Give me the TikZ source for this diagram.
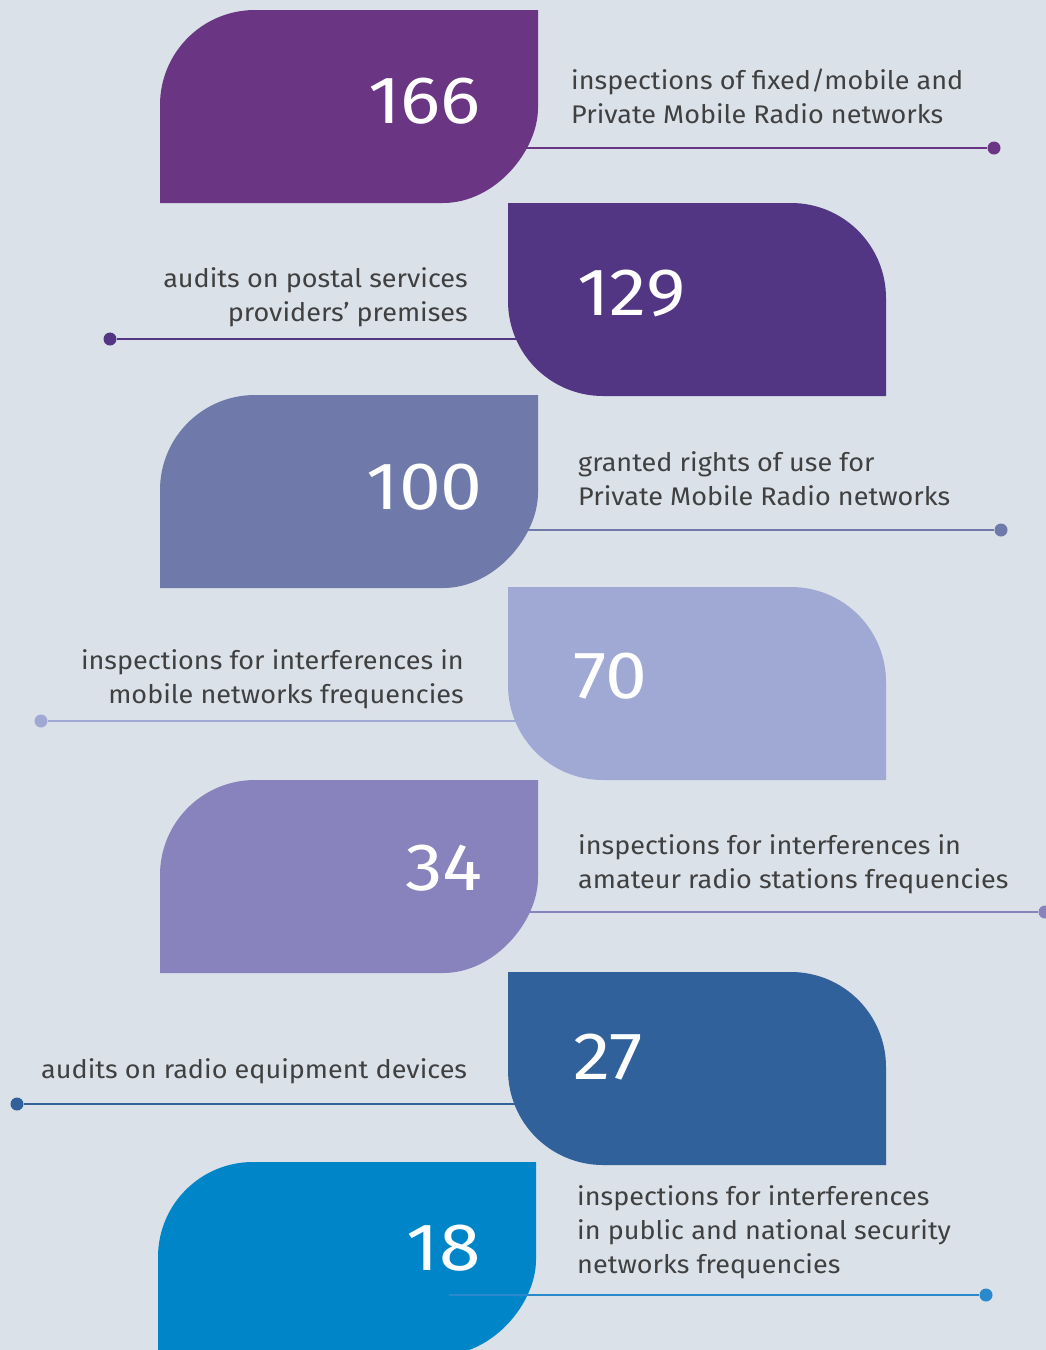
\documentclass[tikz,border=0pt]{standalone}
\usepackage{fontspec}
\setmainfont[FakeStretch=1.06]{Fira Sans}
\newfontfamily\numfont[FakeStretch=1.12]{Fira Sans}
\definecolor{bg}{HTML}{DAE1E8}
\definecolor{cA}{HTML}{6A3583}
\definecolor{cB}{HTML}{523683}
\definecolor{cC}{HTML}{6F7AAA}
\definecolor{cD}{HTML}{A0A8D4}
\definecolor{cE}{HTML}{8882BD}
\definecolor{cF}{HTML}{31619B}
\definecolor{cG}{HTML}{0086C8}
\definecolor{cGline}{HTML}{2A88CC}
\definecolor{txt}{HTML}{404040}
\newcommand\leafleft[3]{%
  \fill[#1] (#2,#3+193) -- (#2,#3+95) .. controls (#2,#3+42.5) and (#2+42.5,#3) .. (#2+95,#3)
    -- (#2+378,#3) -- (#2+378,#3+98) .. controls (#2+378,#3+140.5) and (#2+335.5,#3+193) .. (#2+283,#3+193) -- cycle;}
\newcommand\leafright[3]{%
  \fill[#1] (#2,#3) -- (#2+283,#3) .. controls (#2+335.5,#3) and (#2+378,#3+42.5) .. (#2+378,#3+95)
    -- (#2+378,#3+193) -- (#2+95,#3+193) .. controls (#2+42.5,#3+193) and (#2,#3+150.5) .. (#2,#3+98) -- cycle;}
\begin{document}
\begin{tikzpicture}[x=1pt,y=-1pt,
  num/.style={text=white,inner sep=0pt,font=\numfont\fontsize{67}{67}\selectfont},
  lbl/.style={text=txt,inner sep=0pt,font=\fontsize{25.5}{34}\selectfont},
  dot/.style={circle,fill=#1,inner sep=0pt,minimum size=13pt},
  conn/.style={draw=#1,line width=2.6pt}]
\fill[bg] (0,0) rectangle (1046,1350);
\useasboundingbox (0,0) rectangle (1046,1350);
% connectors behind the shapes
\coordinate (s1) at (500,148);  \node[dot=cA] (d1) at (994,148) {};
\coordinate (s2) at (540,339);  \node[dot=cB] (d2) at (110,339) {};
\coordinate (s3) at (500,530);  \node[dot=cC] (d3) at (1001,530) {};
\coordinate (s4) at (540,721);  \node[dot=cD] (d4) at (41,721) {};
\coordinate (s5) at (500,912);  \node[dot=cE] (d5) at (1045,912) {};
\coordinate (s6) at (540,1104); \node[dot=cF] (d6) at (17,1104) {};
\draw[conn=cA] (s1) -- (d1);
\draw[conn=cB] (s2) -- (d2);
\draw[conn=cC] (s3) -- (d3);
\draw[conn=cD] (s4) -- (d4);
\draw[conn=cE] (s5) -- (d5);
\draw[conn=cF] (s6) -- (d6);
% shapes
\leafleft{cA}{160}{10}
\leafright{cB}{508}{203}
\leafleft{cC}{160}{395}
\leafright{cD}{508}{587}
\leafleft{cE}{160}{780}
\leafright{cF}{508}{972}
\leafleft{cG}{158}{1162}
\coordinate (s7) at (449,1295); \node[dot=cGline] (d7) at (986,1295) {};
\draw[conn=cGline] (s7) -- (d7);
% numbers
\node[num,anchor=base east] (n1) at (481,123) {166};
\node[num,anchor=base west] (n2) at (577,315) {129};
\node[num,anchor=base east] (n3) at (483,509) {100};
\node[num,anchor=base west] (n4) at (573,698) {70};
\node[num,anchor=base east] (n5) at (483,890) {34};
\node[num,anchor=base west] (n6) at (573,1079) {27};
\node[num,anchor=base east] (n7) at (481,1270) {18};
% labels (base anchor = baseline of last line)
\node[lbl,anchor=base west,align=left] (t1) at (571,123) {inspections of fixed/mobile and\\Private Mobile Radio networks};
\node[lbl,anchor=base east,align=right] (t2) at (468,321) {audits on postal services\\providers’ premises};
\node[lbl,anchor=base west,align=left] (t3) at (578,505) {granted rights of use for\\Private Mobile Radio networks};
\node[lbl,anchor=base east,align=right] (t4) at (464,703) {inspections for interferences in\\mobile networks frequencies};
\node[lbl,anchor=base west,align=left] (t5) at (578,888) {inspections for interferences in\\amateur radio stations frequencies};
\node[lbl,anchor=base west] (t6) at (41,1078) {audits on radio equipment devices};
\node[lbl,anchor=base west,align=left] (t7) at (577,1273) {inspections for interferences\\in public and national security\\networks frequencies};
\end{tikzpicture}
\end{document}
